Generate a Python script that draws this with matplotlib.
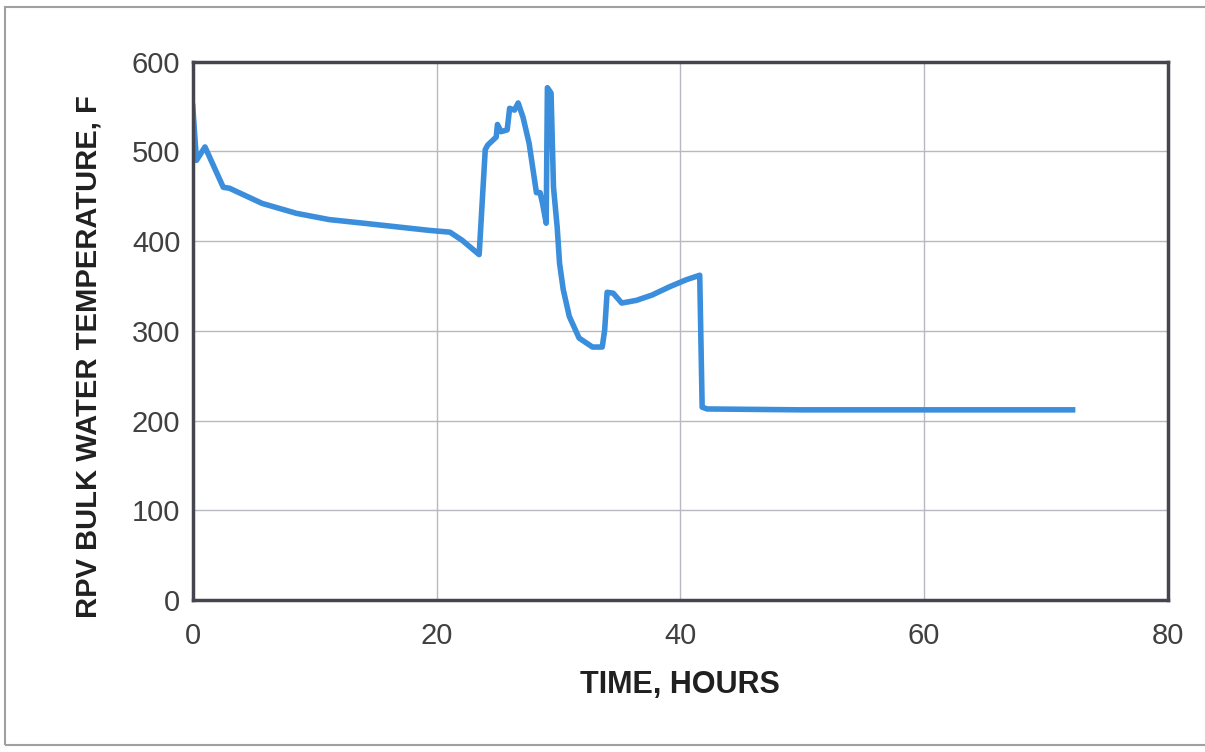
import matplotlib.pyplot as plt
from matplotlib.patches import Rectangle

# Время (часы) и температура воды в корпусе реактора (F)
time_h = [0.0, 0.3, 1.0, 2.5, 3.0, 5.7, 8.5, 11.2, 14.0, 16.7, 19.4, 21.1, 22.1,
          23.5, 24.0, 24.2, 24.9, 25.0, 25.3, 25.8, 26.0, 26.4, 26.7, 27.1, 27.6,
          28.2, 28.5, 28.7, 29.0, 29.1, 29.4, 29.6, 29.9, 30.1, 30.4, 30.9, 31.7,
          32.8, 33.6, 33.8, 34.0, 34.5, 35.2, 36.4, 37.7, 39.1, 40.5, 41.6, 41.8,
          42.2, 50.0, 60.0, 72.2]
temp_f = [550, 490, 505, 460, 459, 442, 431, 424, 420, 416, 412, 410, 401,
          385, 502, 507, 516, 530, 522, 524, 548, 546, 554, 538, 509,
          454, 454, 442, 420, 571, 565, 460, 416, 375, 346, 316, 292,
          282, 282, 301, 343, 342, 331, 334, 340, 349, 357, 362, 215,
          213, 212, 212, 212]

x_ticks = [0, 20, 40, 60, 80]
y_ticks = [0, 100, 200, 300, 400, 500, 600]

plt.rcParams['font.family'] = ['Liberation Sans', 'DejaVu Sans']

fig = plt.figure(figsize=(12.05, 7.52), dpi=100)
# серая рамка вокруг рисунка
fig.patches.append(Rectangle((5 / 1205, 1 - 745 / 752), 1.2, 738 / 752,
                             transform=fig.transFigure, fill=False,
                             edgecolor='#a0a0a0', lw=1.5))
ax = fig.add_axes([0.160, 0.202, 0.809, 0.716])

ax.plot(time_h, temp_f, color='#3a8edb', lw=4, solid_joinstyle='round')

ax.set_xlim(0, 80)
ax.set_ylim(0, 600)
ax.set_xticks(x_ticks)
ax.set_yticks(y_ticks)
ax.grid(True, color='#b8b8c0', lw=1)
ax.tick_params(length=0, labelsize=21, labelcolor='#404040')
ax.tick_params(axis='x', pad=16)
ax.tick_params(axis='y', pad=9)
for s in ax.spines.values():
    s.set_color('#454550')
    s.set_linewidth(2.5)

ax.set_xlabel('TIME, HOURS', fontsize=22, fontweight='bold', color='#202020', labelpad=14)
ax.set_ylabel('RPV BULK WATER TEMPERATURE, F', fontsize=21, fontweight='bold',
              color='#202020')
ax.yaxis.set_label_coords(-0.093, 0.452)

fig.savefig('out.png', dpi=100)
